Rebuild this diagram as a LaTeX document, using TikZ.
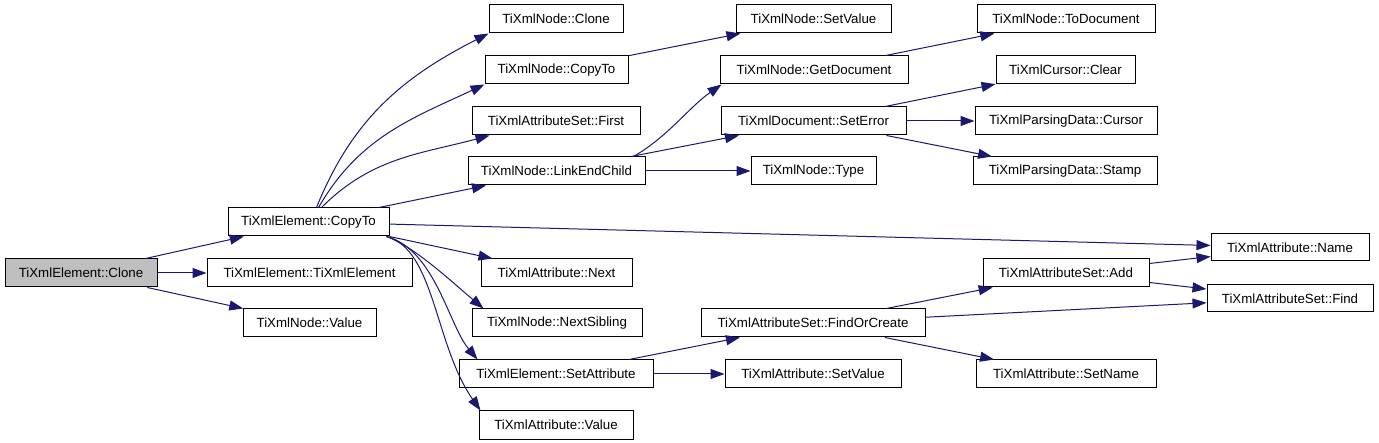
\documentclass[tikz,border=0pt]{standalone}
\usepackage{fontspec}
\setmainfont{Liberation Sans}
\usepackage{tikz}
\usetikzlibrary{arrows.meta}
\definecolor{cEdge}{HTML}{191970}
\definecolor{cRoot}{HTML}{BFBFBF}
\tikzset{
  fn/.style={draw=black, line width=1pt, fill=white, text=black,
             font=\fontsize{13.3}{16}\selectfont, inner sep=0pt,
             minimum height=28pt, minimum width=#1},
  root/.style={fn=#1, fill=cRoot},
  call/.style={-{Triangle[length=14pt,width=10pt]}, line width=1pt, draw=cEdge},
}
\begin{document}
\begin{tikzpicture}[x=1pt, y=1pt]
  \useasboundingbox (0,0) rectangle (1379,-443);

  \node[root=152pt] (clone) at (81,-273) {TiXmlElement::Clone};
  \node[fn=161pt] (ecopy) at (308.5,-222) {TiXmlElement::CopyTo};
  \node[fn=205pt] (ector) at (309.5,-273) {TiXmlElement::TiXmlElement};
  \node[fn=133pt] (nvalue) at (309.5,-323) {TiXmlNode::Value};

  \node[fn=134pt] (nclone) at (556,-19) {TiXmlNode::Clone};
  \node[fn=143pt] (ncopy) at (556.5,-70) {TiXmlNode::CopyTo};
  \node[fn=168pt] (first) at (556,-121) {TiXmlAttributeSet::First};
  \node[fn=177pt] (link) at (556.5,-171) {TiXmlNode::LinkEndChild};
  \node[fn=151pt] (anext) at (556.5,-273) {TiXmlAttribute::Next};
  \node[fn=170pt] (nsib) at (557,-323) {TiXmlNode::NextSibling};
  \node[fn=194pt] (setattr) at (556,-374) {TiXmlElement::SetAttribute};
  \node[fn=154pt] (avalue) at (556,-425) {TiXmlAttribute::Value};

  \node[fn=155pt] (nsetval) at (813.5,-19) {TiXmlNode::SetValue};
  \node[fn=188pt] (getdoc) at (814,-70) {TiXmlNode::GetDocument};
  \node[fn=185pt] (seterr) at (813.5,-121) {TiXmlDocument::SetError};
  \node[fn=125pt] (ntype) at (813.5,-171) {TiXmlNode::Type};
  \node[fn=224pt] (findorc) at (813,-323) {TiXmlAttributeSet::FindOrCreate};
  \node[fn=176pt] (asetval) at (813,-374) {TiXmlAttribute::SetValue};

  \node[fn=178pt] (todoc) at (1066,-19) {TiXmlNode::ToDocument};
  \node[fn=139pt] (cclear) at (1065.5,-70) {TiXmlCursor::Clear};
  \node[fn=182pt] (pcursor) at (1066,-121) {TiXmlParsingData::Cursor};
  \node[fn=184pt] (pstamp) at (1065,-171) {TiXmlParsingData::Stamp};
  \node[fn=166pt] (add) at (1066,-273) {TiXmlAttributeSet::Add};
  \node[fn=180pt] (asetname) at (1066,-374) {TiXmlAttribute::SetName};

  \node[fn=158pt, minimum height=27pt] (aname) at (1290,-247.5) {TiXmlAttribute::Name};
  \node[fn=166pt, minimum height=27pt] (find) at (1290,-298.5) {TiXmlAttributeSet::Find};

  \draw[call] (clone) -- (ecopy);
  \draw[call] (clone) -- (ector);
  \draw[call] (clone) -- (nvalue);

  % upper fan out of CopyTo
  \draw[call] ([xshift=8pt]ecopy.north) to[out=68,in=207] (nclone.south west);
  \draw[call] ([xshift=10pt]ecopy.north) to[out=60,in=205] (ncopy.south west);
  \draw[call] ([xshift=13pt]ecopy.north) to[out=45,in=195] ([xshift=18pt]first.south west);
  \draw[call] (ecopy) -- (link);
  \draw[call] (ecopy) -- (aname);

  % lower fan out of CopyTo
  \draw[call] (ecopy.south east) -- ([xshift=12pt]anext.north west);
  \draw[call] ([xshift=-3pt]ecopy.south east) to[out=-20,in=140,out distance=30pt,in distance=40pt] ([xshift=12pt]nsib.north west);
  \draw[call] ([xshift=-3pt]ecopy.south east) to[out=-15,in=130,out distance=50pt,in distance=45pt] ([xshift=19pt]setattr.north west);
  \draw[call] ([xshift=-3pt]ecopy.south east) to[out=-15,in=125,out distance=50pt,in distance=80pt] ([xshift=2pt]avalue.north west);

  \draw[call] (ncopy) -- (nsetval);
  \draw[call] ([xshift=-12pt]link.north east) to[out=30,in=215,out distance=40pt,in distance=40pt] ([xshift=2pt]getdoc.south west);
  \draw[call] (link) -- (seterr);
  \draw[call] (link) -- (ntype);
  \draw[call] (getdoc) -- (todoc);
  \draw[call] (seterr) -- (cclear);
  \draw[call] (seterr) -- (pcursor);
  \draw[call] (seterr) -- (pstamp);

  \draw[call] (setattr) -- (findorc);
  \draw[call] (setattr) -- (asetval);
  \draw[call] (findorc) -- (add);
  \draw[call] (findorc) -- (find);
  \draw[call] (findorc) -- (asetname);
  \draw[call] (add) -- (aname);
  \draw[call] (add) -- (find);
\end{tikzpicture}
\end{document}
